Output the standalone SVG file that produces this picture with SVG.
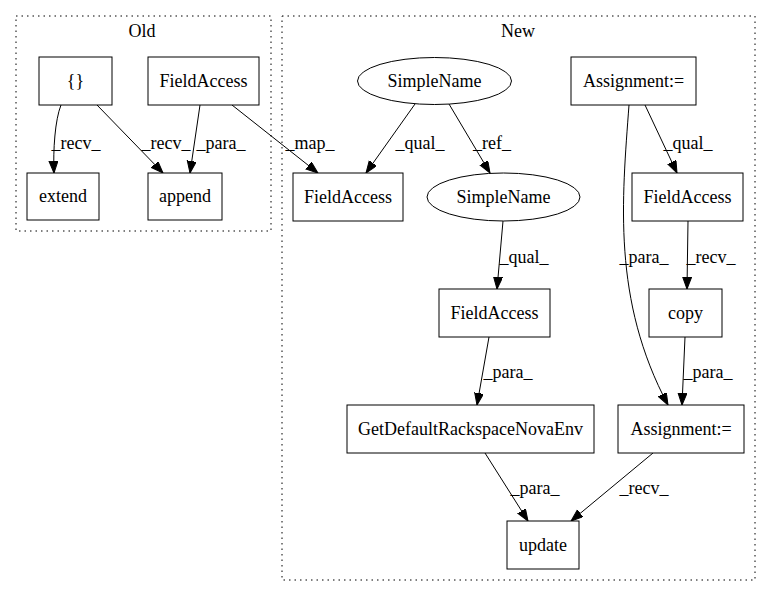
<svg xmlns="http://www.w3.org/2000/svg" width="771" height="596" viewBox="0 0 771 596">
<style>
text{font-family:"Liberation Serif","Times New Roman",serif;font-size:18px;fill:#000;text-anchor:middle}
.n{fill:#fff;stroke:#000;stroke-width:1}
.c{fill:none;stroke:#000;stroke-width:1;stroke-dasharray:1.5,4}
.e{fill:none;stroke:#000;stroke-width:1;marker-end:url(#ah)}
</style>
<defs>
<marker id="ah" markerUnits="userSpaceOnUse" markerWidth="14" markerHeight="11" refX="12" refY="4.5" orient="auto">
<path d="M0,0 L12,4.5 L0,9 z" fill="#000" stroke="#000" stroke-width="1"/>
</marker>
</defs>
<rect width="771" height="596" fill="#fff"/>
<g id="cluster_old">
<rect class="c" x="16" y="16" width="255" height="215"/>
<text x="142" y="37">Old</text>
</g>
<g id="cluster_new">
<rect class="c" x="282" y="16" width="473" height="564"/>
<text x="518" y="37">New</text>
</g>
<g id="connectors">
<path class="e" d="M61,105 C55,120 53,150 54,173"/>
<text x="76" y="149">_recv_</text>
<path class="e" d="M97,105 L163,173"/>
<text x="166" y="149">_recv_</text>
<path class="e" d="M200,105 L190,173"/>
<text x="221" y="149">_para_</text>
<path class="e" d="M232,105 L318,173"/>
<text x="310" y="149">_map_</text>
<path class="e" d="M415,104 L366,173"/>
<text x="420" y="149">_qual_</text>
<path class="e" d="M449,104 L490,173"/>
<text x="492" y="149">_ref_</text>
<path class="e" d="M645,105 L677,173"/>
<text x="688" y="149">_qual_</text>
<path class="e" d="M629,105 C622,200 612,300 668,405"/>
<text x="644" y="263">_para_</text>
<path class="e" d="M503,221 L497,289"/>
<text x="524" y="263">_qual_</text>
<path class="e" d="M688,221 L687,289"/>
<text x="711" y="263">_recv_</text>
<path class="e" d="M489,337 L477,405"/>
<text x="508" y="378">_para_</text>
<path class="e" d="M685,337 L682,405"/>
<text x="708" y="378">_para_</text>
<path class="e" d="M485,453 L528,521"/>
<text x="535" y="494">_para_</text>
<path class="e" d="M653,453 L571,521"/>
<text x="644" y="494">_recv_</text>
</g>
<g id="n_braces"><rect class="n" x="39" y="57" width="73" height="48"/><text x="75.5" y="87">{}</text></g>
<g id="n_fa_old"><rect class="n" x="148" y="57" width="111" height="48"/><text x="203.5" y="87">FieldAccess</text></g>
<g id="n_extend"><rect class="n" x="27" y="173" width="72" height="47"/><text x="63" y="202">extend</text></g>
<g id="n_append"><rect class="n" x="148" y="173" width="74" height="47"/><text x="185" y="202">append</text></g>
<g id="n_sn1"><ellipse class="n" cx="434.5" cy="81" rx="77" ry="23.5"/><text x="434.5" y="87">SimpleName</text></g>
<g id="n_asg1"><rect class="n" x="571" y="57" width="125" height="48"/><text x="633.5" y="87">Assignment:=</text></g>
<g id="n_fa_map"><rect class="n" x="293" y="173" width="110" height="48"/><text x="348" y="203">FieldAccess</text></g>
<g id="n_sn2"><ellipse class="n" cx="503.5" cy="197" rx="76.5" ry="24"/><text x="503.5" y="203">SimpleName</text></g>
<g id="n_fa_r"><rect class="n" x="632" y="173" width="111" height="48"/><text x="687.5" y="203">FieldAccess</text></g>
<g id="n_fa_mid"><rect class="n" x="439" y="289" width="111" height="48"/><text x="494.5" y="319">FieldAccess</text></g>
<g id="n_copy"><rect class="n" x="649" y="289" width="73" height="48"/><text x="685.5" y="319">copy</text></g>
<g id="n_getdef"><rect class="n" x="347" y="405" width="247" height="48"/><text x="470.5" y="435">GetDefaultRackspaceNovaEnv</text></g>
<g id="n_asg2"><rect class="n" x="618" y="405" width="126" height="48"/><text x="681" y="435">Assignment:=</text></g>
<g id="n_update"><rect class="n" x="507" y="521" width="72" height="48"/><text x="543" y="551">update</text></g>
</svg>
